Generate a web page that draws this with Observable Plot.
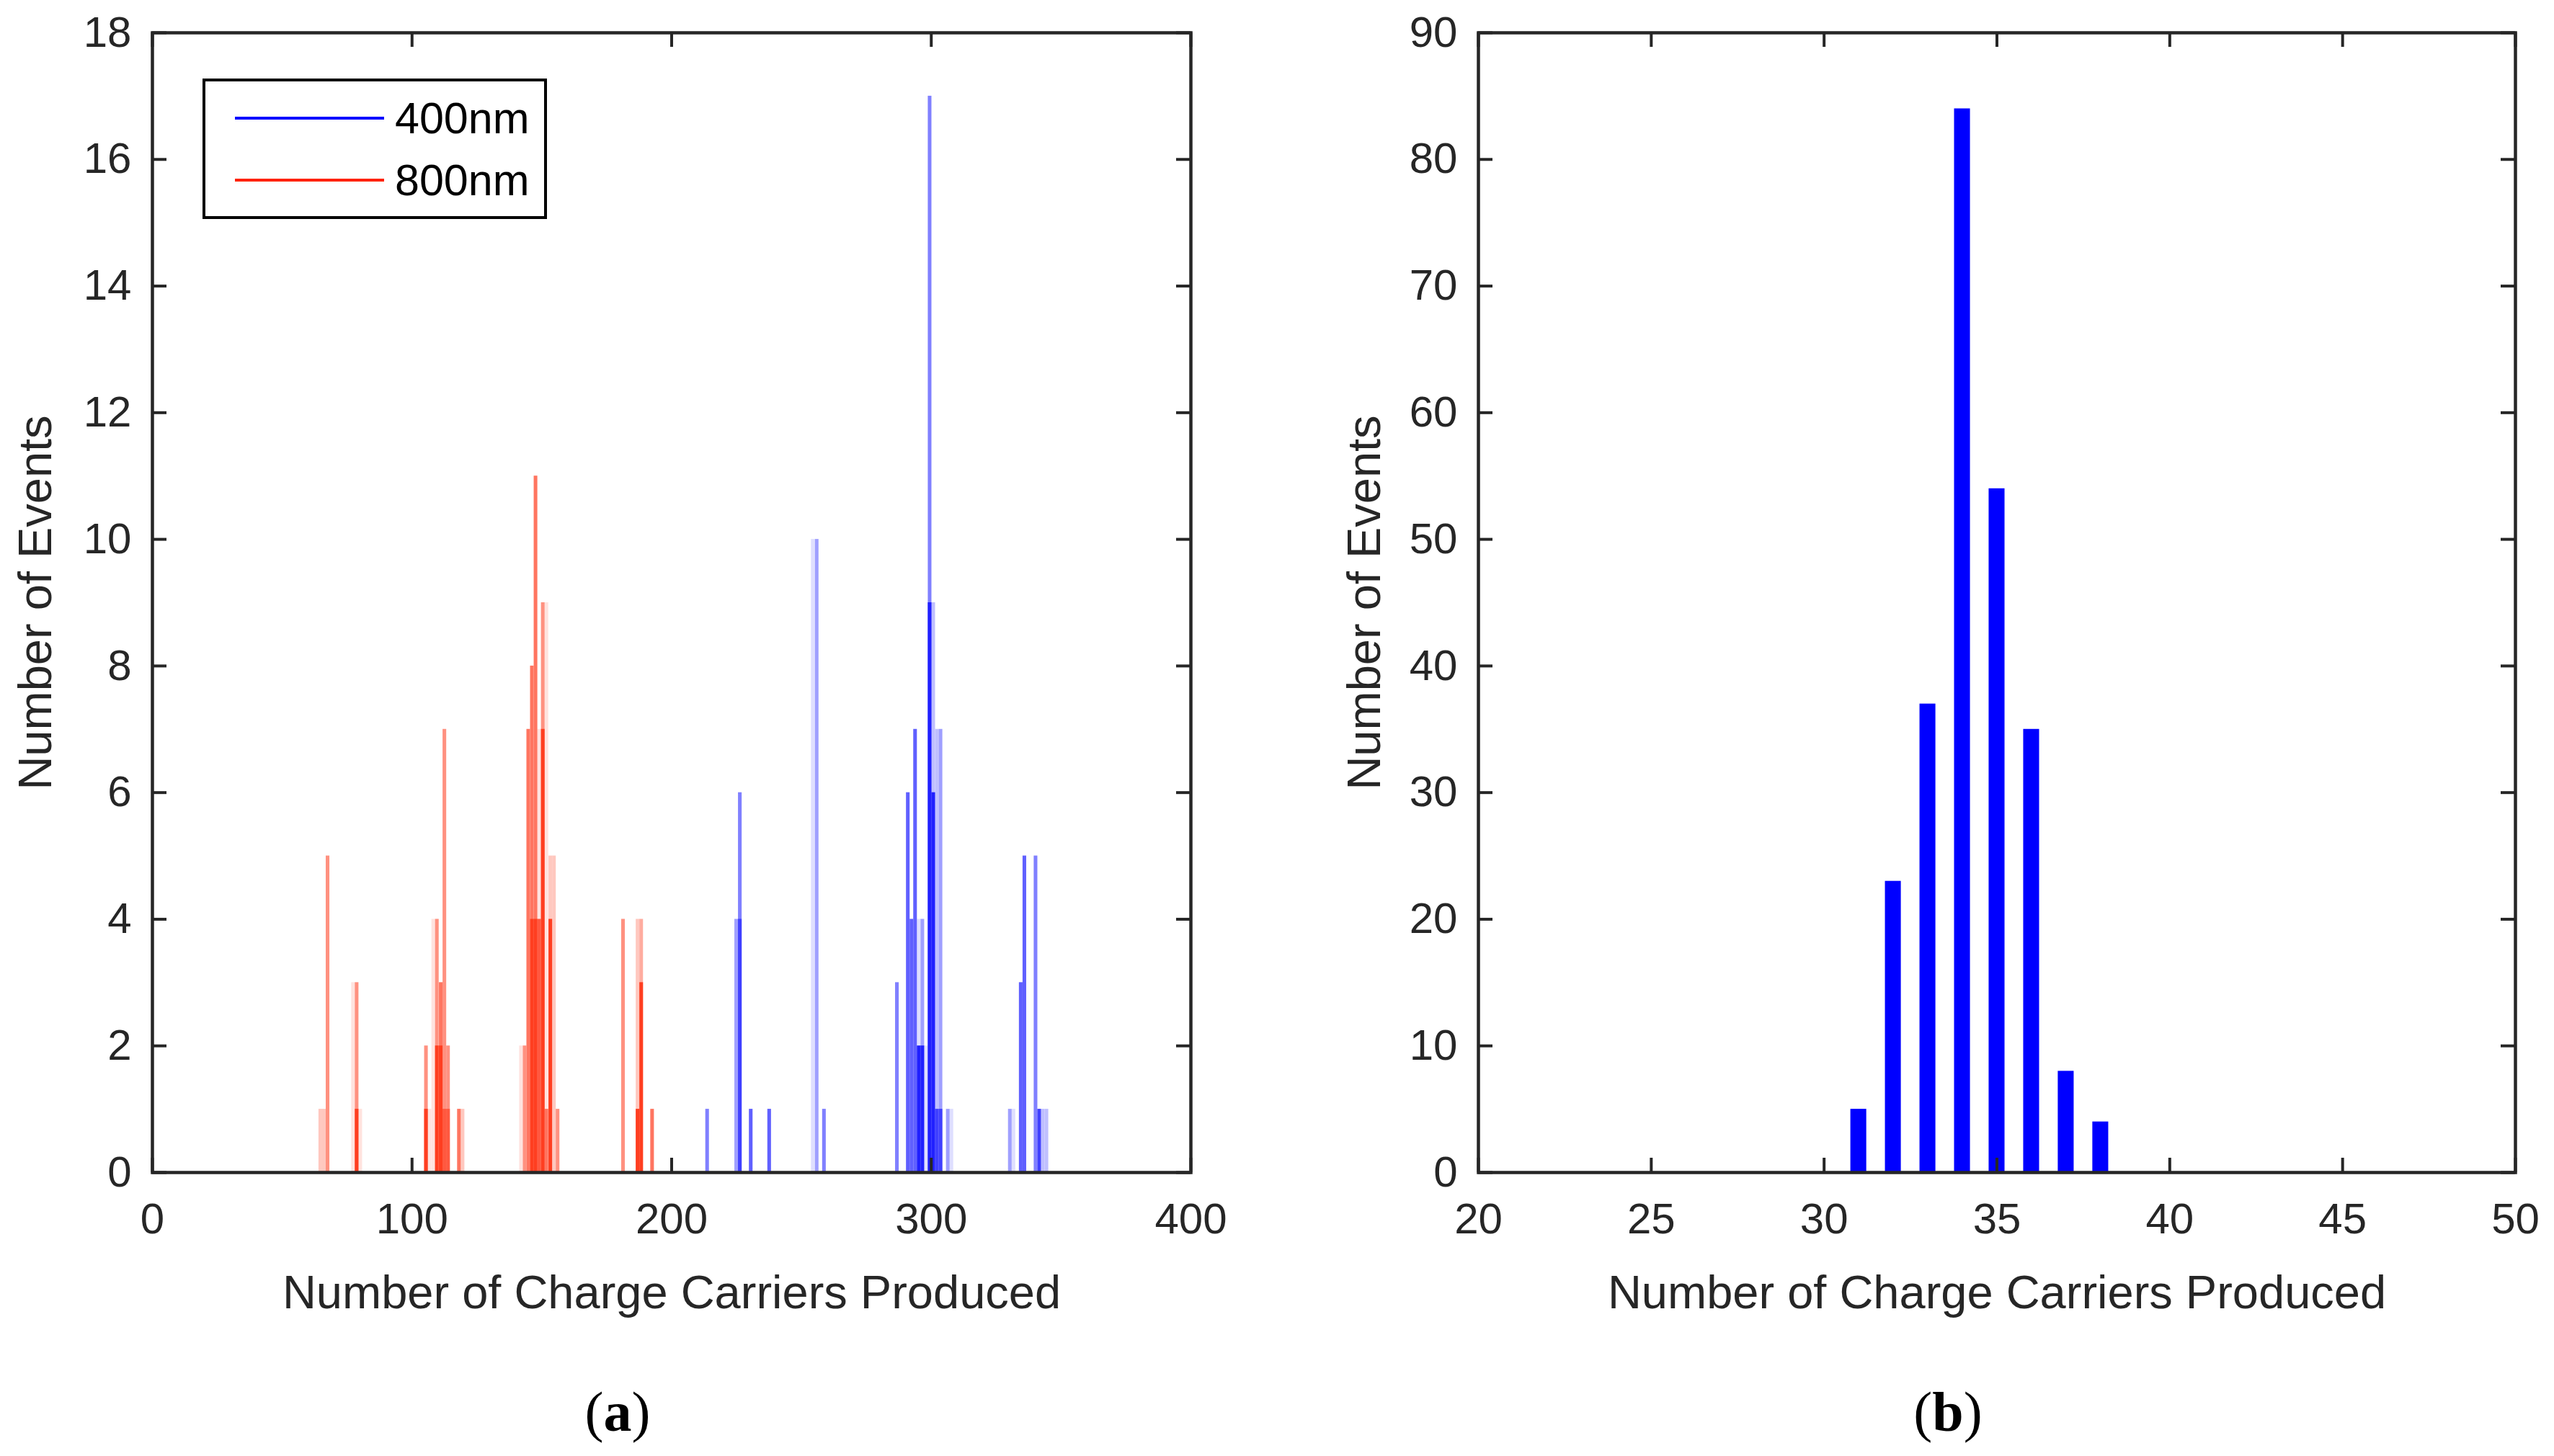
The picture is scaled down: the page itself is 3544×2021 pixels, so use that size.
<!DOCTYPE html>
<html>
<head>
<meta charset="utf-8">
<script src="https://cdn.jsdelivr.net/npm/d3@7"></script>
<script src="https://cdn.jsdelivr.net/npm/@observablehq/plot@0.6"></script>
<style>
  html, body { margin: 0; padding: 0; background: #fff; }
  #fig { position: relative; width: 3544px; height: 2021px; background: #fff; overflow: hidden;
         font-family: "Liberation Sans", Arial, sans-serif; }
  .panel { position: absolute; top: 0; }
  .cap { position: absolute; top: 1915px; width: 300px; margin-left: -150px; text-align: center;
         font-family: "Liberation Serif", "Times New Roman", serif; font-size: 78px; line-height: 90px; color: #000; }
  #legend { position: absolute; left: 281px; top: 109px; width: 478px; height: 195px; box-sizing: border-box;
            border: 4px solid #000; background: #fff; }
  #legend .ln { position: absolute; left: 41px; width: 207px; height: 4px; }
  #legend .lt { position: absolute; left: 263px; font-size: 61px; line-height: 70px; color: #000; }
</style>
</head>
<body>
<div id="fig"></div>
<script>
// ---------- data ----------
// Panel (a): overlaid histograms. Each entry: [bin centre, count, number of overlapping runs at that count]
const red800 = [
  [64.8,1,2],[66.2,1,2],[67.6,5,4],
  [77.4,3,1],[78.8,3,4],[78.8,1,7],[80.2,1,1],
  [105.5,2,4],[105.5,1,7],[106.9,1,1],[108.3,4,1],[109.7,4,4],[109.7,2,7],
  [111.2,3,5],[111.2,2,7],[112.6,7,4],[112.6,1,6],[114.0,2,4],[114.0,1,6],
  [118.2,1,5],[119.6,1,2],
  [142.1,2,1],[143.5,2,4],[144.9,7,5],[146.3,8,5],[146.3,4,7],[147.7,11,5],[147.7,4,7],
  [149.1,7,1],[149.1,4,6],[150.5,9,4],[150.5,7,7],[151.9,9,1],[151.9,1,5],
  [153.4,5,2],[153.4,4,7],[154.8,5,2],[156.2,1,4],
  [181.4,4,4],[187.0,4,2],[187.0,1,7],[188.4,4,3],[188.4,3,7],[192.6,1,5]
];
const blue400 = [
  [213.8,1,4],[225.0,4,3],[226.4,6,4],[226.4,4,6],[230.6,1,5],[237.7,1,5],
  [254.5,10,1],[256.0,10,3],[258.8,1,4],
  [286.9,3,4],[291.1,6,5],[292.5,4,5],[293.9,7,5],
  [295.3,4,1],[295.3,2,7],[296.7,4,3],[296.7,2,7],[298.1,2,1],
  [299.5,17,4],[299.5,9,7],[300.9,9,2],[300.9,6,7],[302.3,7,2],[302.3,1,6],
  [303.7,7,3],[303.7,1,6],[306.5,1,3],[307.9,1,1],
  [330.4,1,3],[331.8,1,1],[334.6,3,5],[336.0,5,5],[340.3,5,4],[341.7,1,6],
  [343.1,1,2],[344.5,1,2]
];
const binWidthA = 1.4055;
const aXTicks = [0, 100, 200, 300, 400];
const aYTicks = [0, 2, 4, 6, 8, 10, 12, 14, 16, 18];
const legendLabels = ["400nm", "800nm"];
const seriesColors = ["#0000ff", "#ff2200"];

// Panel (b)
const bCarriers = [31, 32, 33, 34, 35, 36, 37, 38];
const bEvents   = [5, 23, 37, 84, 54, 35, 8, 4];
const bXTicks = [20, 25, 30, 35, 40, 45, 50];
const bYTicks = [0, 10, 20, 30, 40, 50, 60, 70, 80, 90];

const xTitle = "Number of Charge Carriers Produced";
const yTitle = "Number of Events";
const runsTotal = 8;

// ---------- drawing ----------
const fig = document.getElementById("fig");
const W = 1772, H = 1760, MT = 45, MB = 133;
const frameH = H - MT - MB;
const axisColor = "#262626";
const tickLen = 20;
const shade = (base, n) => d3.interpolateRgb("#ffffff", base)(n / runsTotal);
const fmt = d => String(d);

function segs(rows, base) {
  return rows.map(([x, h, n]) => ({x, h, n, base})).sort((a, b) => a.n - b.n);
}
const aSegs = segs(red800, seriesColors[1]).concat(segs(blue400, seriesColors[0]));
const bRows = bCarriers.map((c, i) => ({x: c, h: bEvents[i]}));

function frameMarks(xt, yt, frameW, yTitleDx) {
  return [
    Plot.tickX(xt, {x: d => d, insetTop: frameH - tickLen, stroke: axisColor, strokeWidth: 4}),
    Plot.tickX(xt, {x: d => d, insetBottom: frameH - tickLen, stroke: axisColor, strokeWidth: 4}),
    Plot.tickY(yt, {y: d => d, insetRight: frameW - tickLen, stroke: axisColor, strokeWidth: 4}),
    Plot.tickY(yt, {y: d => d, insetLeft: frameW - tickLen, stroke: axisColor, strokeWidth: 4}),
    Plot.frame({stroke: axisColor, strokeWidth: 4.5}),
    Plot.axisX(xt, {tickSize: 0, tickPadding: 42, label: null, fill: axisColor, tickFormat: fmt}),
    Plot.axisY(yt, {tickSize: 0, tickPadding: 29, label: null, fill: axisColor, tickFormat: fmt}),
    Plot.text([xTitle], {frameAnchor: "bottom", lineAnchor: "middle", dy: 168, fontSize: 65, fill: axisColor}),
    Plot.text([yTitle], {frameAnchor: "left", textAnchor: "middle", lineAnchor: "middle", dx: yTitleDx, rotate: -90, fontSize: 65, fill: axisColor})
  ];
}

const styleObj = {fontSize: "60px", fontFamily: "'Liberation Sans', Arial, sans-serif", color: axisColor, background: "transparent", overflow: "visible"};

// Panel (a)
const aML = 211, aMR = 120;
const plotA = Plot.plot({
  width: W, height: H, marginLeft: aML, marginRight: aMR, marginTop: MT, marginBottom: MB,
  style: styleObj,
  x: {domain: [0, 400]},
  y: {domain: [0, 18]},
  color: {type: "identity"},
  marks: [
    Plot.rect(aSegs, {
      x1: d => d.x - binWidthA / 2, x2: d => d.x + binWidthA / 2,
      y1: () => 0, y2: d => d.h,
      fill: d => shade(d.base, d.n)
    }),
    ...frameMarks(aXTicks, aYTicks, W - aML - aMR, -161)
  ]
});
plotA.classList.add("panel");
plotA.style.left = "0px";
fig.appendChild(plotA);

// Panel (b)
const bML = 279, bMR = 54;
const plotB = Plot.plot({
  width: W, height: H, marginLeft: bML, marginRight: bMR, marginTop: MT, marginBottom: MB,
  style: styleObj,
  x: {domain: [20, 50]},
  y: {domain: [0, 90]},
  color: {type: "identity"},
  marks: [
    Plot.rect(bRows, {
      x1: d => d.x - 0.23, x2: d => d.x + 0.23,
      y1: () => 0, y2: d => d.h,
      fill: seriesColors[0]
    }),
    ...frameMarks(bXTicks, bYTicks, W - bML - bMR, -157)
  ]
});
plotB.classList.add("panel");
plotB.style.left = W + "px";
fig.appendChild(plotB);

// Legend for panel (a)
const leg = document.createElement("div");
leg.id = "legend";
legendLabels.forEach((lab, i) => {
  const cy = i === 0 ? 51 : 137;
  const ln = document.createElement("div");
  ln.className = "ln";
  ln.style.top = (cy - 2) + "px";
  ln.style.background = seriesColors[i];
  leg.appendChild(ln);
  const t = document.createElement("div");
  t.className = "lt";
  t.style.top = (cy - 35) + "px";
  t.textContent = lab;
  leg.appendChild(t);
});
fig.appendChild(leg);

// Sub-figure captions
[["a", 857], ["b", 2703]].forEach(([k, cx]) => {
  const c = document.createElement("div");
  c.className = "cap";
  c.style.left = cx + "px";
  c.innerHTML = "(<b>" + k + "</b>)";
  fig.appendChild(c);
});
</script>
</body>
</html>
